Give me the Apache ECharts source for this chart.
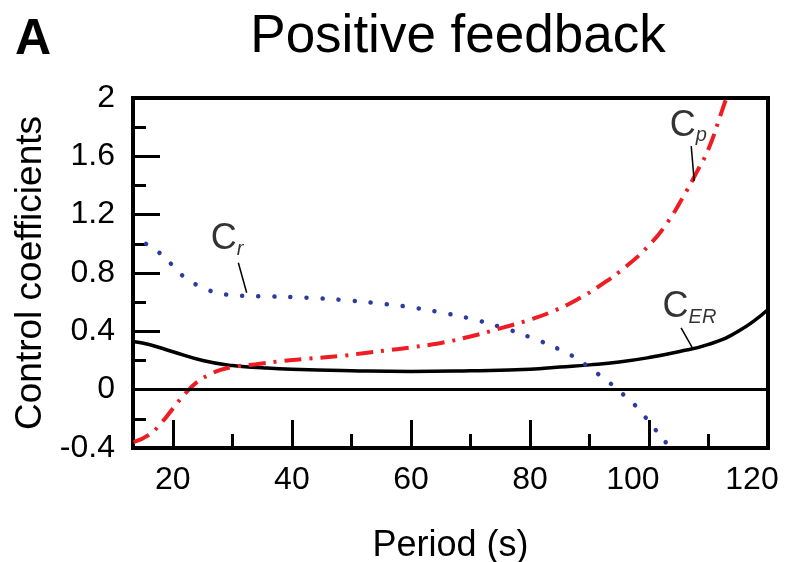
<!DOCTYPE html>
<html lang="en">
<head>
    <meta charset="UTF-8">
    <title>Positive feedback</title>
    <style>
        html, body { margin: 0; padding: 0; background: #fff; }
        #main { width: 786px; height: 562px; }
    </style>
</head>
<body>
    <div id="main"></div>
    <script src="https://cdn.jsdelivr.net/npm/echarts@6/dist/echarts.min.js"></script>
    <script>
        // values: [period (s), coefficient]
        let cER = [
            [13.3, 0.33], [16, 0.31], [20, 0.26], [25, 0.2], [30, 0.165], [35, 0.15],
            [40, 0.14], [50, 0.13], [60, 0.125], [70, 0.13], [80, 0.14], [85, 0.155],
            [90, 0.17], [95, 0.19], [100, 0.22], [105, 0.26], [110, 0.31], [115, 0.4], [120, 0.55]
        ];
        let cR = [
            [15.5, 1.0], [18, 0.93], [20, 0.85], [22, 0.77], [25, 0.7], [28, 0.66],
            [31, 0.645], [35, 0.64], [40, 0.635], [45, 0.625], [50, 0.61], [55, 0.59],
            [60, 0.565], [65, 0.53], [70, 0.487], [75, 0.43], [80, 0.36], [85, 0.275],
            [88, 0.21], [90, 0.15], [93, 0.06], [95, -0.01], [97, -0.08], [99, -0.17],
            [101, -0.27], [103, -0.37], [104, -0.42]
        ];
        let cP = [
            [13.4, -0.36], [16, -0.31], [18, -0.23], [20, -0.13], [22, -0.03], [24, 0.05],
            [26, 0.1], [28, 0.135], [30, 0.155], [34, 0.175], [38, 0.195], [42, 0.21],
            [48, 0.23], [52, 0.25], [56, 0.27], [60, 0.29], [65, 0.32], [70, 0.365],
            [75, 0.42], [80, 0.48], [84, 0.54], [88, 0.62], [92, 0.72], [96, 0.84],
            [100, 0.99], [103, 1.14], [106, 1.34], [108, 1.49], [110, 1.65], [112, 1.88],
            [113, 2.0], [114, 2.12]
        ];
        let majorTicks = [20, 40, 60, 80, 100, 120];
        let minorTicks = [30, 50, 70, 90, 110];

        // curve labels: [x, y, subscript] and their leader lines
        let curveLabels = [[29.1, 1.03, 'r'], [106.6, 1.81, 'p'], [106.8, 0.563, 'ER']];
        let leaders = [
            [[31, 0.87], [32.4, 0.665]],
            [[107.1, 1.67], [107.6, 1.43]],
            [[105.4, 0.424], [107.3, 0.287]]
        ];

        const font = 'Liberation Sans, Arial, Helvetica, sans-serif';
        var myChart = echarts.init(document.getElementById('main'));

        option = {
            animation: false,
            title: [{
                text: 'A',
                left: 10,
                top: 10,
                textStyle: { fontFamily: font, fontSize: 50, fontWeight: 'bold', color: '#000' }
            }, {
                text: 'Positive feedback',
                left: 453,
                textAlign: 'center',
                top: 6,
                textStyle: { fontFamily: font, fontSize: 53, fontWeight: 'normal', color: '#000' }
            }],
            grid: {
                left: 133, right: 18, top: 98, bottom: 114,
                outerBoundsMode: 'none',
                show: true, borderColor: '#000', borderWidth: 4
            },
            xAxis: [{
                type: 'value',
                min: 13.3, max: 120,
                name: 'Period (s)',
                nameLocation: 'middle',
                nameGap: 80,
                nameTextStyle: { fontFamily: font, fontSize: 36, color: '#000' },
                axisLine: { onZero: false, lineStyle: { color: '#000', width: 4 } },
                axisTick: { show: true, inside: true, length: 28, customValues: majorTicks, lineStyle: { color: '#000', width: 3 } },
                axisLabel: {
                    customValues: majorTicks, margin: 16, fontFamily: font, fontSize: 32, color: '#000',
                    // the last two labels sit a little left of their ticks in the figure
                    formatter: v => v >= 100 ? '{s|' + v + '}' : String(v),
                    rich: { s: { fontFamily: font, fontSize: 32, color: '#000', padding: [0, 32, 0, 0] } }
                },
                splitLine: { show: false }
            }, {
                type: 'value',
                min: 13.3, max: 120,
                position: 'bottom',
                axisLine: { show: false, onZero: false },
                axisTick: { show: true, inside: true, length: 14, customValues: minorTicks, lineStyle: { color: '#000', width: 3 } },
                axisLabel: { show: false },
                splitLine: { show: false }
            }],
            yAxis: {
                type: 'value',
                min: -0.4, max: 2, interval: 0.4,
                name: 'Control coefficients',
                nameLocation: 'middle',
                nameGap: 77,
                nameTextStyle: { fontFamily: font, fontSize: 37, color: '#000' },
                axisLine: { show: true, lineStyle: { color: '#000', width: 4 } },
                axisTick: { inside: true, length: 27, lineStyle: { color: '#000', width: 3 } },
                minorTick: { show: true, splitNumber: 2, length: 13, lineStyle: { color: '#000', width: 3 } },
                axisLabel: {
                    margin: 18, fontFamily: font, fontSize: 32, color: '#000',
                    formatter: v => String(Math.round(v * 10) / 10)
                },
                splitLine: { show: false }
            },
            series: [{
                name: 'CER',
                type: 'line',
                data: cER,
                smooth: true,
                showSymbol: false,
                lineStyle: { color: '#000', width: 3.5 },
                markLine: {
                    silent: true,
                    symbol: 'none',
                    label: { show: false },
                    lineStyle: { color: '#000', width: 3, type: 'solid' },
                    data: [{ yAxis: 0 }].concat(leaders.map(p => [
                        { coord: p[0], lineStyle: { width: 1.5 } },
                        { coord: p[1] }
                    ]))
                }
            }, {
                name: 'Cr',
                type: 'line',
                data: cR,
                smooth: true,
                showSymbol: false,
                lineStyle: { color: '#2c3c9c', width: 4.5, type: [0.1, 16], cap: 'round' }
            }, {
                name: 'Cp',
                type: 'line',
                data: cP,
                smooth: true,
                showSymbol: false,
                lineStyle: { color: '#ee1d24', width: 4, type: [17, 8, 3, 8] }
            }, {
                name: 'labels',
                type: 'scatter',
                symbolSize: 0,
                data: curveLabels.map(d => ({ value: [d[0], d[1]], sub: d[2] })),
                label: {
                    show: true,
                    position: 'inside',
                    formatter: p => '{c|C}{s|' + p.data.sub + '}',
                    rich: {
                        c: { fontFamily: font, fontSize: 36, color: '#000', lineHeight: 40 },
                        s: { fontFamily: font, fontSize: 20, fontStyle: 'italic', color: '#000', lineHeight: 12, verticalAlign: 'bottom' }
                    }
                }
            }]
        };
        myChart.setOption(option);
    </script>
</body>
</html>
